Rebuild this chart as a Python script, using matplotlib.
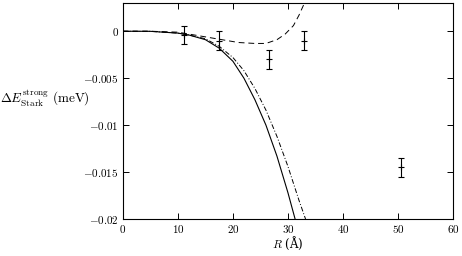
import numpy as np
import matplotlib.pyplot as plt

plt.rcParams['mathtext.fontset'] = 'cm'
plt.rcParams['font.family'] = 'serif'
plt.rcParams['font.serif'] = ['DejaVu Serif']

# measured points
R_exp = [11.1, 17.5, 26.6, 33.0, 50.5]
E_exp = [-0.0004, -0.001, -0.003, -0.001, -0.0145]
E_err = [0.001, 0.001, 0.001, 0.001, 0.001]

# solid curve
R_solid = [0, 5, 10, 12, 15, 17.5, 20, 22, 24, 26, 28, 30, 31.3]
E_solid = [0, -0.00001, -0.0002, -0.0004, -0.0009, -0.0018, -0.0032,
           -0.0050, -0.0073, -0.0100, -0.0133, -0.0172, -0.0200]

# dash-dot curve
R_dd = [0, 5, 10, 12, 15, 17.5, 20, 22, 24, 26, 28, 30, 32, 33.2]
E_dd = [0, -0.00001, -0.0002, -0.0004, -0.0008, -0.0016, -0.0028,
        -0.0042, -0.0061, -0.0084, -0.0112, -0.0144, -0.0180, -0.0200]

# dashed curve
R_dash = [0, 5, 10, 12, 15, 18, 21, 24, 26, 28, 29.5, 31, 32, 33]
E_dash = [0, 0, -0.0001, -0.0003, -0.0006, -0.0009, -0.0012, -0.0013,
          -0.0013, -0.0009, -0.0003, 0.0006, 0.0017, 0.0030]

xticks = [0, 10, 20, 30, 40, 50, 60]
yticks = [0, -0.005, -0.01, -0.015, -0.02]
ylabels = ['$0$', '$-0.005$', '$-0.01$', '$-0.015$', '$-0.02$']

fig = plt.figure(figsize=(4.62, 2.56), dpi=100)
ax = fig.add_axes([0.266, 0.1445, 0.7145, 0.8435])

ax.plot(R_solid, E_solid, 'k-', lw=0.8)
ax.plot(R_dd, E_dd, 'k', lw=0.7, dashes=[5, 2, 1, 2])
ax.plot(R_dash, E_dash, 'k', lw=0.7, dashes=[6, 4])
ax.errorbar(R_exp, E_exp, yerr=E_err, fmt='k+', ms=4, mew=0.8,
            elinewidth=0.8, capsize=2.5, capthick=0.8)

ax.set_xlim(0, 60)
ax.set_ylim(-0.02, 0.003)
ax.set_xticks(xticks)
ax.set_xticklabels(['$%d$' % v for v in xticks])
ax.set_yticks(yticks)
ax.set_yticklabels(ylabels)
ax.tick_params(direction='in', top=True, right=True, length=4, width=0.7,
               labelsize=8, pad=3)
for s in ax.spines.values():
    s.set_linewidth(0.8)

ax.set_xlabel('$R$ (Å)', fontsize=8.5, labelpad=0)
ax.set_ylabel(r'$\Delta E^{\mathrm{strong}}_{\mathrm{Stark}}\ (\mathrm{meV})$',
              fontsize=9.5, rotation=0, ha='left', va='center')
ax.yaxis.set_label_coords(-0.372, 0.56)

fig.savefig('out.png', dpi=100)
